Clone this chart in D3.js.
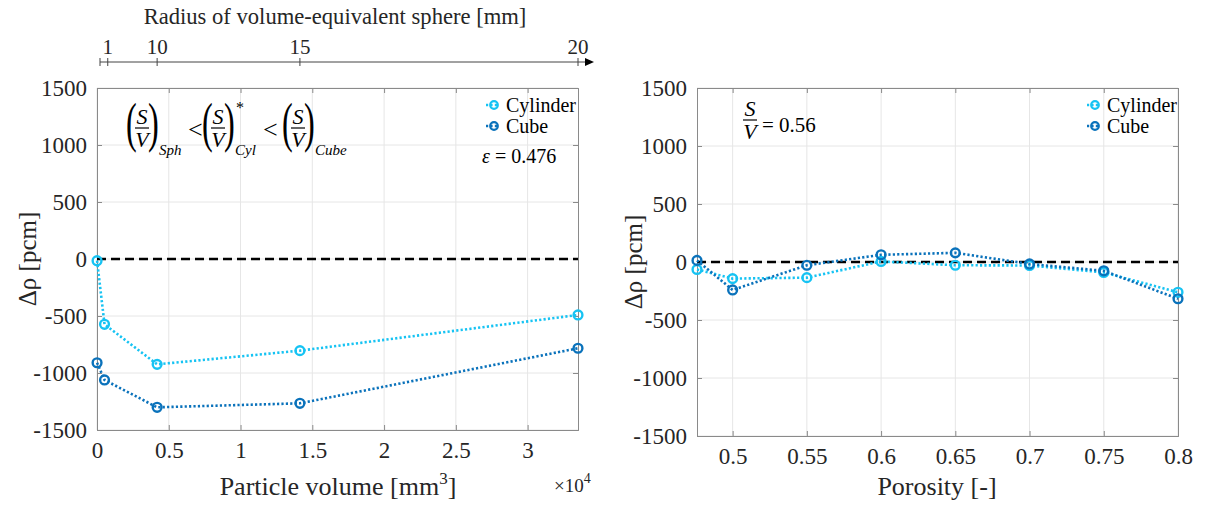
<!DOCTYPE html>
<html>
<head>
<meta charset="utf-8">
<script src="https://cdn.jsdelivr.net/npm/d3@7"></script>
<style>
  body { margin: 0; background: #fff; }
  svg { display: block; }
</style>
</head>
<body>
<svg id="chart" width="1206" height="507"></svg>
<script>
// ---- data ----
// left panel: particle volume in mm^3 (radius 1, 5, 10, 15, 20 mm)
const volumes = [4.19, 523.6, 4188.8, 14137, 33510];
const cylVol = [-15, -573, -924, -804, -491];
const cubeVol = [-910, -1061, -1301, -1266, -783];

// right panel: porosity
const porosity = [0.476, 0.5, 0.55, 0.6, 0.65, 0.7, 0.75, 0.8];
const cylPor = [-64, -143, -135, 5, -28, -30, -90, -261];
const cubePor = [14, -241, -28, 62, 79, -17, -76, -317];

const volTicks = [0, 0.5, 1, 1.5, 2, 2.5, 3];          // x 10^4
const porTicks = [0.5, 0.55, 0.6, 0.65, 0.7, 0.75, 0.8];
const rhoTicks = [-1500, -1000, -500, 0, 500, 1000, 1500];
// top axis: radius of volume-equivalent sphere
const radiusLabels = ['1', '10', '15', '20'];
const radiusTickVol = [750, 4188.8, 14137, 33510];

const seriesNames = ['Cylinder', 'Cube'];
const colors = { 'Cylinder': '#16c3f3', 'Cube': '#0a72bb' };

const FONT = "'Liberation Serif'";

const svg = d3.select('#chart');
svg.append('rect').attr('width', 1206).attr('height', 507).attr('fill', '#fff');
const root = svg.append('g').attr('font-family', FONT).attr('fill', '#000');

// draw one panel with box, grid, mirrored ticks
function drawPanel(opts) {
    const { x, y, xTicks, xFmt, name } = opts;
    const g = root.append('g').attr('class', name);
    const [x0, x1] = x.range();
    const [y0, y1] = y.range();

    // grid
    g.append('g').selectAll('line').data(xTicks).enter().append('line')
        .attr('x1', d => x(d)).attr('x2', d => x(d))
        .attr('y1', y0).attr('y2', y1)
        .attr('stroke', '#e6e6e6').attr('stroke-width', 1);
    g.append('g').selectAll('line').data(rhoTicks).enter().append('line')
        .attr('x1', x0).attr('x2', x1)
        .attr('y1', d => y(d)).attr('y2', d => y(d))
        .attr('stroke', '#e6e6e6').attr('stroke-width', 1);

    const axes = [
        [d3.axisBottom(x).tickValues(xTicks).tickFormat(xFmt).tickSize(-5).tickPadding(12), `translate(0,${y0})`],
        [d3.axisTop(x).tickValues(xTicks).tickFormat('').tickSize(-5), `translate(0,${y1})`],
        [d3.axisLeft(y).tickValues(rhoTicks).tickFormat(d => String(d)).tickSize(-5).tickPadding(10), `translate(${x0},0)`],
        [d3.axisRight(y).tickValues(rhoTicks).tickFormat('').tickSize(-5), `translate(${x1},0)`]
    ];
    axes.forEach(([ax, tr]) => {
        const a = g.append('g').attr('transform', tr).call(ax)
            .attr('font-family', FONT).attr('font-size', 23);
        a.select('.domain').attr('stroke', '#8a8a8a').attr('stroke-width', 1);
        a.selectAll('.tick line').attr('stroke', '#8a8a8a');
        a.selectAll('.tick text').attr('fill', '#262626');
    });

    // zero line
    g.append('line')
        .attr('x1', x0).attr('x2', x1)
        .attr('y1', y(0)).attr('y2', y(0))
        .attr('stroke', '#000').attr('stroke-width', 2.6)
        .attr('stroke-dasharray', '9,5');
    return g;
}

function drawSeries(g, x, y, xs, ys, color) {
    const pts = xs.map((v, i) => [v, ys[i]]);
    const line = d3.line().x(d => x(d[0])).y(d => y(d[1]));
    g.append('path')
        .datum(pts)
        .attr('fill', 'none')
        .attr('stroke', color)
        .attr('stroke-width', 2.6)
        .attr('stroke-dasharray', '2.2,2.2')
        .attr('d', line);
    g.selectAll(null).data(pts).enter().append('circle')
        .attr('cx', d => x(d[0])).attr('cy', d => y(d[1]))
        .attr('r', 4.4)
        .attr('fill', 'none')
        .attr('stroke', color)
        .attr('stroke-width', 2.4);
}

function drawLegend(g, lx, ly) {
    seriesNames.forEach((s, i) => {
        const yy = ly + i * 21;
        g.append('line').attr('x1', lx).attr('x2', lx + 12).attr('y1', yy).attr('y2', yy)
            .attr('stroke', colors[s]).attr('stroke-width', 2.4).attr('stroke-dasharray', '2.2,2.2');
        g.append('circle').attr('cx', lx + 8).attr('cy', yy).attr('r', 3.8)
            .attr('fill', 'none').attr('stroke', colors[s]).attr('stroke-width', 2.2);
        g.append('text').attr('x', lx + 20).attr('y', yy).attr('dy', '0.35em')
            .attr('font-size', 20).text(s);
    });
}

function yLabel(x, y) {
    root.append('text')
        .attr('transform', `translate(${x},${y}) rotate(-90)`)
        .attr('text-anchor', 'middle')
        .attr('font-size', 25)
        .attr('fill', '#262626')
        .text('\u0394\u03c1 [pcm]');
}

// ---- left panel ----
const xL = d3.scaleLinear().domain([0, 33510]).range([97, 578]);
const yL = d3.scaleLinear().domain([-1500, 1500]).range([430, 88]);
const gL = drawPanel({ x: xL, y: yL, xTicks: volTicks.map(d => d * 1e4), xFmt: d => String(d / 1e4), name: 'left' });
drawSeries(gL, xL, yL, volumes, cylVol, colors['Cylinder']);
drawSeries(gL, xL, yL, volumes, cubeVol, colors['Cube']);
drawLegend(gL, 486, 105);
yLabel(36, 259);

root.append('text').attr('x', 338).attr('y', 495).attr('text-anchor', 'middle')
    .attr('font-size', 26).attr('fill', '#262626')
    .html('Particle volume [mm<tspan dy="-11" font-size="17">3</tspan><tspan dy="11">]</tspan>');
root.append('text').attr('x', 554).attr('y', 492)
    .attr('font-size', 19).attr('fill', '#262626')
    .html('\u00d710<tspan dy="-9" font-size="14">4</tspan>');

// epsilon
root.append('text').attr('x', 482).attr('y', 163)
    .attr('font-size', 20)
    .html('<tspan font-style="italic">\u03b5</tspan> = 0.476');

// S/V formula
function frac(x, yBar, size) {
    root.append('text').attr('font-style', 'italic').attr('x', x).attr('y', yBar - 4)
        .attr('text-anchor', 'middle').attr('font-size', size).text('S');
    root.append('line').attr('x1', x - 7).attr('x2', x + 7).attr('y1', yBar).attr('y2', yBar)
        .attr('stroke', '#000').attr('stroke-width', 1.2);
    root.append('text').attr('font-style', 'italic').attr('x', x).attr('y', yBar + 19)
        .attr('text-anchor', 'middle').attr('font-size', size).text('V');
}
function paren(x, ch) {
    // tall, thin bracket: stretched vertically
    root.append('text').attr('transform', `translate(${x},141) scale(0.85,1.45)`)
        .attr('font-size', 38).text(ch);
}
function parenGroup(x, sub, sup) {
    paren(x, '(');
    frac(x + 16, 128, 22);
    paren(x + 22, ')');
    root.append('text').attr('font-style', 'italic').attr('x', x + 33).attr('y', 155)
        .attr('font-size', 15).text(sub);
    if (sup) root.append('text').attr('x', x + 34).attr('y', 113)
        .attr('font-size', 16).text(sup);
}
parenGroup(126, 'Sph');
root.append('text').attr('x', 188).attr('y', 138).attr('font-size', 26).text('<');
parenGroup(202, 'Cyl', '*');
root.append('text').attr('x', 263).attr('y', 138).attr('font-size', 26).text('<');
parenGroup(282, 'Cube');

// ---- top axis: radius ----
const topY = 62;
root.append('line').attr('x1', 100).attr('x2', 586).attr('y1', topY).attr('y2', topY)
    .attr('stroke', '#444').attr('stroke-width', 1);
root.append('path').attr('d', `M585,${topY - 4}L594,${topY}L585,${topY + 4}Z`).attr('fill', '#000');
root.append('line').attr('x1', 100).attr('x2', 100).attr('y1', topY - 4).attr('y2', topY + 4)
    .attr('stroke', '#444');
root.selectAll('line.rt').data(radiusTickVol).enter().append('line').attr('class', 'rt')
    .attr('x1', d => xL(d)).attr('x2', d => xL(d)).attr('y1', topY - 4).attr('y2', topY + 4)
    .attr('stroke', '#444');
root.selectAll('text.rl').data(radiusTickVol).enter().append('text').attr('class', 'rl')
    .attr('x', d => xL(d)).attr('y', topY - 8).attr('text-anchor', 'middle')
    .attr('font-size', 21).attr('fill', '#262626')
    .text((d, i) => radiusLabels[i]);
root.append('text').attr('x', 335).attr('y', 24).attr('text-anchor', 'middle')
    .attr('font-size', 22.6).attr('fill', '#262626')
    .text('Radius of volume-equivalent sphere [mm]');

// ---- right panel ----
const xR = d3.scaleLinear().domain([0.476, 0.8]).range([697, 1178]);
const yR = d3.scaleLinear().domain([-1500, 1500]).range([436, 88]);
const gR = drawPanel({ x: xR, y: yR, xTicks: porTicks, xFmt: d => String(d), name: 'right' });
drawSeries(gR, xR, yR, porosity, cylPor, colors['Cylinder']);
drawSeries(gR, xR, yR, porosity, cubePor, colors['Cube']);
drawLegend(gR, 1087, 105);
yLabel(642, 262);
root.append('text').attr('x', 937).attr('y', 495).attr('text-anchor', 'middle')
    .attr('font-size', 26).attr('fill', '#262626').text('Porosity [-]');

frac(750, 120, 22);
root.append('text').attr('x', 762).attr('y', 132).attr('font-size', 21).text('= 0.56');
</script>
</body>
</html>
